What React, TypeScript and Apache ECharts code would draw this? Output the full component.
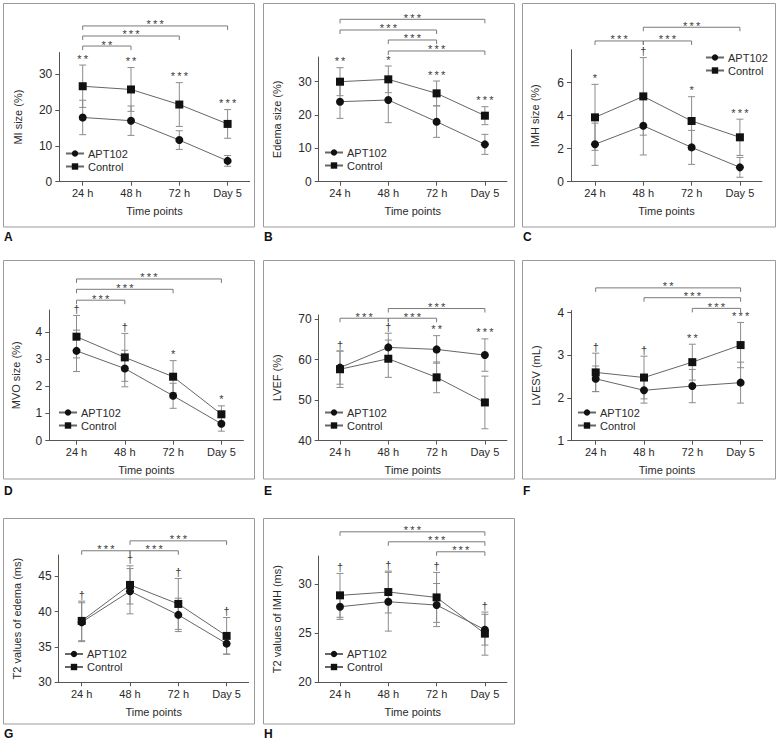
import React, { useEffect, useRef } from "react";
import * as echarts from "echarts";

const TIME_POINTS = ["24 h", "48 h", "72 h", "Day 5"];
const SERIES_NAMES = ["APT102", "Control"];
const X_POS = [0, 1, 2, 3];

// A — MI size (%)
const miApt = [17.9, 17.0, 11.6, 5.8];
const miAptSd = [4.8, 4.1, 2.6, 1.5];
const miCtrl = [26.6, 25.7, 21.5, 16.1];
const miCtrlSd = [5.9, 6.1, 6.1, 4.0];
const miMarks = ["**", "**", "***", "***"];
const miBrackets = [[0, 1, 37.8, "**"], [0, 2, 40.6, "***"], [0, 3, 43.4, "***"]];
const miTicks = [0, 10, 20, 30];

// B — Edema size (%)
const edApt = [24.0, 24.5, 18.0, 11.2];
const edAptSd = [5.0, 6.8, 4.7, 3.0];
const edCtrl = [30.0, 30.7, 26.5, 19.8];
const edCtrlSd = [4.2, 4.0, 3.7, 2.7];
const edMarks = ["**", "*", "***", "***"];
const edBrackets = [[0, 3, 48.7, "***"], [0, 2, 45.5, "***"], [1, 2, 42.5, "***"], [1, 3, 39.2, "***"]];
const edTicks = [0, 10, 20, 30];

// C — IMH size (%)
const imhApt = [2.27, 3.39, 2.08, 0.87];
const imhAptSd = [1.28, 1.77, 1.03, 0.6];
const imhCtrl = [3.9, 5.17, 3.68, 2.69];
const imhCtrlSd = [2.0, 2.35, 1.47, 1.1];
const imhMarks = ["*", "†", "*", "***"];
const imhBrackets = [[0, 1, 8.53, "***"], [1, 2, 8.53, "***"], [1, 3, 9.36, "***"]];
const imhTicks = [0, 2, 4, 6];

// D — MVO size (%)
const mvoApt = [3.3, 2.65, 1.65, 0.62];
const mvoAptSd = [0.76, 0.67, 0.46, 0.27];
const mvoCtrl = [3.82, 3.06, 2.35, 0.97];
const mvoCtrlSd = [0.78, 0.88, 0.59, 0.31];
const mvoMarks = ["†", "†", "*", "*"];
const mvoBrackets = [[0, 3, 5.94, "***"], [0, 2, 5.56, "***"], [0, 1, 5.16, "***"]];
const mvoTicks = [0, 1, 2, 3, 4];

// E — LVEF (%)
const efApt = [58.0, 63.0, 62.5, 61.1];
const efAptSd = [4.1, 3.5, 3.4, 4.0];
const efCtrl = [57.6, 60.2, 55.6, 49.4];
const efCtrlSd = [4.5, 4.6, 3.8, 6.5];
const efMarks = ["†", "†", "**", "***"];
const efBrackets = [[1, 3, 72.6, "***"], [0, 1, 70.2, "***"], [1, 2, 70.2, "***"]];
const efTicks = [40, 50, 60, 70];

// F — LVESV (mL)
const esvApt = [2.45, 2.18, 2.28, 2.36];
const esvAptSd = [0.3, 0.3, 0.39, 0.48];
const esvCtrl = [2.6, 2.48, 2.84, 3.24];
const esvCtrlSd = [0.45, 0.5, 0.42, 0.53];
const esvMarks = ["†", "†", "**", "***"];
const esvBrackets = [[0, 3, 4.58, "**"], [1, 3, 4.35, "***"], [2, 3, 4.1, "***"]];
const esvTicks = [1, 2, 3, 4];

// G — T2 values of edema (ms)
const t2eApt = [38.5, 42.88, 39.53, 35.47];
const t2eAptSd = [2.75, 3.2, 2.36, 1.47];
const t2eCtrl = [38.68, 43.77, 41.08, 36.56];
const t2eCtrlSd = [2.8, 2.7, 3.6, 2.6];
const t2eMarks = ["†", "†", "†", "†"];
const t2eBrackets = [[1, 3, 50.0, "***"], [0, 1, 48.6, "***"], [1, 2, 48.6, "***"]];
const t2eTicks = [30, 35, 40, 45];

// H — T2 values of IMH (ms)
const t2iApt = [27.72, 28.23, 27.89, 25.37];
const t2iAptSd = [1.29, 3.0, 2.2, 1.57];
const t2iCtrl = [28.88, 29.22, 28.67, 24.97];
const t2iCtrlSd = [2.24, 2.14, 2.55, 2.2];
const t2iMarks = ["†", "†", "†", "†"];
const t2iBrackets = [[0, 3, 35.37, "***"], [1, 3, 34.35, "***"], [2, 3, 33.33, "***"]];
const t2iTicks = [20, 25, 30];

const PANELS = [
  { key: "A", yName: "MI size (%)", yMin: 0, yMax: 36, yTicks: miTicks, apt: miApt, aptSd: miAptSd, ctrl: miCtrl, ctrlSd: miCtrlSd, marks: miMarks, brackets: miBrackets },
  { key: "B", yName: "Edema size (%)", yMin: 0, yMax: 37.4, yTicks: edTicks, apt: edApt, aptSd: edAptSd, ctrl: edCtrl, ctrlSd: edCtrlSd, marks: edMarks, brackets: edBrackets },
  { key: "C", yName: "IMH size (%)", yMin: 0, yMax: 8, yTicks: imhTicks, apt: imhApt, aptSd: imhAptSd, ctrl: imhCtrl, ctrlSd: imhCtrlSd, marks: imhMarks, brackets: imhBrackets },
  { key: "D", yName: "MVO size (%)", yMin: 0, yMax: 4.8, yTicks: mvoTicks, apt: mvoApt, aptSd: mvoAptSd, ctrl: mvoCtrl, ctrlSd: mvoCtrlSd, marks: mvoMarks, brackets: mvoBrackets },
  { key: "E", yName: "LVEF (%)", yMin: 40, yMax: 71, yTicks: efTicks, apt: efApt, aptSd: efAptSd, ctrl: efCtrl, ctrlSd: efCtrlSd, marks: efMarks, brackets: efBrackets },
  { key: "F", yName: "LVESV (mL)", yMin: 1, yMax: 4.05, yTicks: esvTicks, apt: esvApt, aptSd: esvAptSd, ctrl: esvCtrl, ctrlSd: esvCtrlSd, marks: esvMarks, brackets: esvBrackets },
  { key: "G", yName: "T2 values of edema (ms)", yMin: 30, yMax: 48, yTicks: t2eTicks, apt: t2eApt, aptSd: t2eAptSd, ctrl: t2eCtrl, ctrlSd: t2eCtrlSd, marks: t2eMarks, brackets: t2eBrackets },
  { key: "H", yName: "T2 values of IMH (ms)", yMin: 20, yMax: 32.9, yTicks: t2iTicks, apt: t2iApt, aptSd: t2iAptSd, ctrl: t2iCtrl, ctrlSd: t2iCtrlSd, marks: t2iMarks, brackets: t2iBrackets },
];

// Layout (pixels)
const SPACING = 48.3;
const RIGHT_PAD = 22;
const LAYOUT = [
  { frame: [3.5, 3.5, 251, 223.5], label: [4, 237], axisX: 59.3, c0: 82.7, top: 52.5, bottom: 181.7, nameGap: 36, legend: [65, 148] },
  { frame: [263.5, 3.5, 251, 223.5], label: [264, 237], axisX: 318.7, c0: 340, top: 57, bottom: 181.7, nameGap: 36, legend: [324, 147] },
  { frame: [522.5, 3.5, 253, 223.5], label: [523, 237], axisX: 571, c0: 595, top: 49.7, bottom: 181.7, nameGap: 31, legend: [705, 52] },
  { frame: [3.5, 260.5, 251, 218.5], label: [4, 491], axisX: 49.3, c0: 76.5, top: 310, bottom: 440.7, nameGap: 28, legend: [58, 407] },
  { frame: [263.5, 260.5, 251, 218.5], label: [264, 491], axisX: 318.7, c0: 340, top: 315, bottom: 440.5, nameGap: 36, legend: [324, 407] },
  { frame: [522.5, 260.5, 253, 218.5], label: [523, 491], axisX: 571.3, c0: 595.7, top: 310.5, bottom: 440.7, nameGap: 30, legend: [577, 407] },
  { frame: [3.5, 518.5, 251, 205.5], label: [4, 734], axisX: 58.7, c0: 81.7, top: 555, bottom: 682.3, nameGap: 36, legend: [64, 648.5] },
  { frame: [263.5, 518.5, 251, 205.5], label: [264, 734], axisX: 318.7, c0: 340, top: 556, bottom: 682.3, nameGap: 36, legend: [324, 648.5] },
];

const FONT = "'Liberation Sans', Arial, sans-serif";
const AXIS_COLOR = "#555";
const TEXT_COLOR = "#2a2a2a";
const ERR_COLOR = "#8c8c8c";
const BRACKET_COLOR = "#7a7a7a";
const LINE_COLOR = "#666";
const MARK_COLOR = "#3a3a3a";

function starText(s: string) {
  return s.split("").join("\u2009");
}

function markText(x: number, y: number, s: string) {
  return {
    type: "text",
    x,
    y,
    style: {
      text: starText(s),
      fontSize: 11,
      fontFamily: FONT,
      fill: MARK_COLOR,
      align: "center",
      verticalAlign: "bottom",
      shadowBlur: 1,
      shadowColor: "rgba(255,255,255,0)",
    },
  };
}

function buildOption() {
  const grid: any[] = [];
  const xAxis: any[] = [];
  const yAxis: any[] = [];
  const series: any[] = [];
  const legend: any[] = [];
  const graphic: any[] = [];

  PANELS.forEach((p, i) => {
    const L = LAYOUT[i];
    const right = L.c0 + 3 * SPACING + RIGHT_PAD;
    grid.push({
      left: L.axisX,
      top: L.top,
      width: right - L.axisX,
      height: L.bottom - L.top,
      containLabel: false,
      outerBoundsMode: "none",
    });
    xAxis.push({
      gridIndex: i,
      type: "value",
      min: -(L.c0 - L.axisX) / SPACING,
      max: 3 + RIGHT_PAD / SPACING,
      axisLine: { show: true, onZero: false, lineStyle: { color: AXIS_COLOR, width: 1 } },
      axisTick: { show: true, customValues: X_POS, length: 4, lineStyle: { color: AXIS_COLOR } },
      axisLabel: {
        show: true,
        customValues: X_POS,
        formatter: (v: number) => TIME_POINTS[Math.round(v)] ?? "",
        fontSize: 11,
        color: TEXT_COLOR,
        margin: 6,
        fontFamily: FONT,
      },
      splitLine: { show: false },
      name: "Time points",
      nameLocation: "middle",
      nameGap: 24,
      nameTextStyle: { fontSize: 11, color: TEXT_COLOR, fontFamily: FONT },
    });
    yAxis.push({
      gridIndex: i,
      type: "value",
      min: p.yMin,
      max: p.yMax,
      axisLine: { show: true, onZero: false, lineStyle: { color: AXIS_COLOR, width: 1 } },
      axisTick: { show: true, customValues: p.yTicks, length: 4, lineStyle: { color: AXIS_COLOR } },
      axisLabel: {
        show: true,
        customValues: p.yTicks,
        fontSize: 12,
        color: TEXT_COLOR,
        margin: 7,
        fontFamily: FONT,
      },
      splitLine: { show: false },
      name: p.yName,
      nameLocation: "middle",
      nameGap: L.nameGap,
      nameTextStyle: { fontSize: 11, color: TEXT_COLOR, fontFamily: FONT },
    });

    // error bars (mean ± SD)
    const errData: number[][] = [];
    X_POS.forEach((x, k) => {
      errData.push([x, p.apt[k], p.aptSd[k]]);
      errData.push([x, p.ctrl[k], p.ctrlSd[k]]);
    });
    series.push({
      type: "custom",
      xAxisIndex: i,
      yAxisIndex: i,
      clip: false,
      silent: true,
      z: 1,
      data: errData,
      encode: { x: 0, y: 1 },
      renderItem: (params: any, api: any) => {
        const x = api.value(0);
        const m = api.value(1);
        const sd = api.value(2);
        const t = api.coord([x, m + sd]);
        const b = api.coord([x, m - sd]);
        const hw = 3.5;
        const st = { stroke: ERR_COLOR, lineWidth: 1, fill: null };
        return {
          type: "group",
          children: [
            { type: "line", shape: { x1: t[0], y1: t[1], x2: b[0], y2: b[1] }, style: st },
            { type: "line", shape: { x1: t[0] - hw, y1: t[1], x2: t[0] + hw, y2: t[1] }, style: st },
            { type: "line", shape: { x1: b[0] - hw, y1: b[1], x2: b[0] + hw, y2: b[1] }, style: st },
          ],
        };
      },
    });

    // group means
    series.push({
      name: SERIES_NAMES[0],
      type: "line",
      xAxisIndex: i,
      yAxisIndex: i,
      z: 3,
      data: X_POS.map((x, k) => [x, p.apt[k]]),
      symbol: "circle",
      symbolSize: 8,
      itemStyle: { color: "#111" },
      lineStyle: { color: LINE_COLOR, width: 1 },
      silent: true,
    });
    series.push({
      name: SERIES_NAMES[1],
      type: "line",
      xAxisIndex: i,
      yAxisIndex: i,
      z: 3,
      data: X_POS.map((x, k) => [x, p.ctrl[k]]),
      symbol: "rect",
      symbolSize: 8,
      itemStyle: { color: "#111" },
      lineStyle: { color: LINE_COLOR, width: 1 },
      silent: true,
    });

    // significance marks above each time point
    const marks = p.marks;
    series.push({
      type: "custom",
      xAxisIndex: i,
      yAxisIndex: i,
      clip: false,
      silent: true,
      z: 4,
      data: X_POS.map((x, k) => [x, Math.max(p.apt[k] + p.aptSd[k], p.ctrl[k] + p.ctrlSd[k])]),
      encode: { x: 0, y: 1 },
      renderItem: (params: any, api: any) => {
        const pt = api.coord([api.value(0), api.value(1)]);
        return markText(pt[0], pt[1] - 1, marks[params.dataIndex]);
      },
    });

    // brackets between time points
    const br = p.brackets;
    series.push({
      type: "custom",
      xAxisIndex: i,
      yAxisIndex: i,
      clip: false,
      silent: true,
      z: 4,
      data: br.map((b) => [b[0], b[1], b[2]]),
      encode: { x: [0, 1], y: 2 },
      renderItem: (params: any, api: any) => {
        const a = api.coord([api.value(0), api.value(2)]);
        const c = api.coord([api.value(1), api.value(2)]);
        const lbl = String(br[params.dataIndex][3]);
        return {
          type: "group",
          children: [
            {
              type: "polyline",
              shape: { points: [[a[0], a[1] + 4], [a[0], a[1]], [c[0], c[1]], [c[0], c[1] + 4]] },
              style: { stroke: BRACKET_COLOR, lineWidth: 1, fill: null },
            },
            markText((a[0] + c[0]) / 2, a[1] + 4, lbl),
          ],
        };
      },
    });

    legend.push({
      left: L.legend[0],
      top: L.legend[1],
      orient: "vertical",
      itemWidth: 18,
      itemHeight: 8,
      itemGap: 2,
      padding: 0,
      selectedMode: false,
      data: SERIES_NAMES,
      textStyle: { fontSize: 11, color: TEXT_COLOR, fontFamily: FONT, padding: [0, 0, 0, -1] },
    });

    graphic.push({
      type: "rect",
      shape: { x: L.frame[0], y: L.frame[1], width: L.frame[2], height: L.frame[3] },
      style: { fill: "none", stroke: "#9a9a9a", lineWidth: 1 },
      silent: true,
    });
    graphic.push({
      type: "text",
      x: L.label[0],
      y: L.label[1],
      style: {
        text: p.key,
        fontSize: 12,
        fontWeight: "bold",
        fontFamily: FONT,
        fill: "#111",
        verticalAlign: "middle",
        align: "left",
      },
      silent: true,
    });
  });

  return {
    animation: false,
    backgroundColor: "#fff",
    textStyle: { fontFamily: FONT },
    grid,
    xAxis,
    yAxis,
    series,
    legend,
    graphic,
  };
}

export default function App() {
  const ref = useRef<HTMLDivElement>(null);
  useEffect(() => {
    if (!ref.current) return;
    const chart = echarts.init(ref.current, undefined, { renderer: "svg" });
    chart.setOption(buildOption() as any);
    return () => chart.dispose();
  }, []);
  return (
    <div
      ref={ref}
      style={{ position: "absolute", left: 0, top: 0, width: 779, height: 745 }}
    />
  );
}
